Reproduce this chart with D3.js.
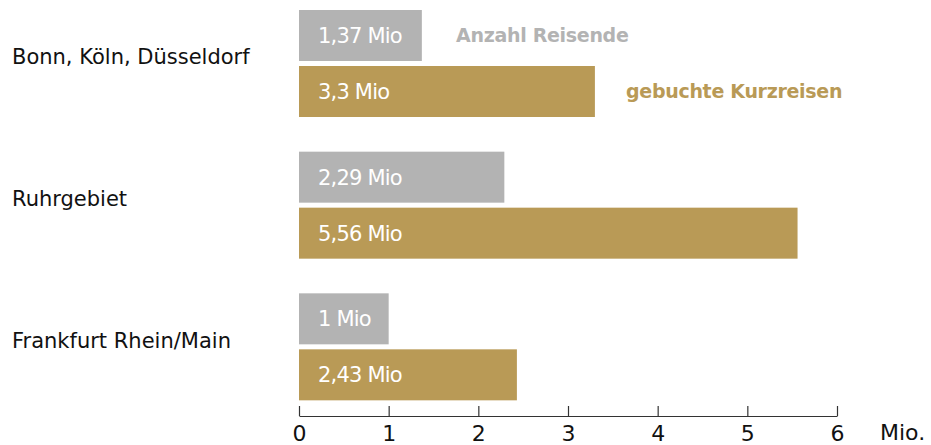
<!DOCTYPE html>
<html>
<head>
<meta charset="utf-8">
<script src="https://cdn.jsdelivr.net/npm/d3@7"></script>
<style>
  body { margin: 0; background: #fff; }
  text { font-family: "DejaVu Sans", sans-serif; }
</style>
</head>
<body>
<svg></svg>
<script>
var width = 931;
var height = 445;

// Data
var regions = ['Bonn, Köln, Düsseldorf', 'Ruhrgebiet', 'Frankfurt Rhein/Main'];
var travellers = [1.37, 2.29, 1];      // Anzahl Reisende (Mio)
var shortTrips = [3.3, 5.56, 2.43];    // gebuchte Kurzreisen (Mio)
var ticks = [0, 1, 2, 3, 4, 5, 6];

var grey = '#b3b3b3';
var gold = '#b99a56';

var svg = d3.select('svg')
    .attr('width', width)
    .attr('height', height);

// Scales
var xScale = d3.scaleLinear()
    .domain([0, 6])
    .range([299, 837]);

var yScale = d3.scaleBand()
    .domain(regions)
    .range([10, 435])
    .paddingInner(0)
    .paddingOuter(0);

var barH = 51;
var gap = 5;

var fmt = function(v) { return String(v).replace('.', ',') + ' Mio'; };

// Category labels
svg.selectAll('.cat')
    .data(regions)
    .enter()
    .append('text')
    .attr('x', 12)
    .attr('y', d => yScale(d) + barH - 4)
    .attr('dy', '0.35em')
    .style('font-size', '21px')
    .style('fill', '#111')
    .text(d => d);

// Grey bars
svg.selectAll('.bar-grey')
    .data(travellers)
    .enter()
    .append('rect')
    .attr('x', xScale(0))
    .attr('y', (d, i) => yScale(regions[i]))
    .attr('width', d => xScale(d) - xScale(0))
    .attr('height', barH)
    .attr('fill', grey);

// Gold bars
svg.selectAll('.bar-gold')
    .data(shortTrips)
    .enter()
    .append('rect')
    .attr('x', xScale(0))
    .attr('y', (d, i) => yScale(regions[i]) + barH + gap)
    .attr('width', d => xScale(d) - xScale(0))
    .attr('height', barH)
    .attr('fill', gold);

// Value labels inside bars
svg.selectAll('.lbl-grey')
    .data(travellers)
    .enter()
    .append('text')
    .attr('x', xScale(0) + 19)
    .attr('y', (d, i) => yScale(regions[i]) + barH / 2)
    .attr('dy', '0.35em')
    .style('font-size', '21px')
    .style('letter-spacing', '-0.8px')
    .style('fill', '#fff')
    .text(fmt);

svg.selectAll('.lbl-gold')
    .data(shortTrips)
    .enter()
    .append('text')
    .attr('x', xScale(0) + 19)
    .attr('y', (d, i) => yScale(regions[i]) + barH + gap + barH / 2)
    .attr('dy', '0.35em')
    .style('font-size', '21px')
    .style('letter-spacing', '-0.8px')
    .style('fill', '#fff')
    .text(fmt);

// Legend labels
svg.append('text')
    .attr('x', 456)
    .attr('y', yScale(regions[0]) + barH / 2)
    .attr('dy', '0.35em')
    .style('font-size', '19px')
    .style('letter-spacing', '-0.3px')
    .style('font-weight', 'bold')
    .style('fill', grey)
    .text('Anzahl Reisende');

svg.append('text')
    .attr('x', 626)
    .attr('y', yScale(regions[0]) + barH + gap + barH / 2)
    .attr('dy', '0.35em')
    .style('font-size', '19px')
    .style('letter-spacing', '-0.3px')
    .style('font-weight', 'bold')
    .style('fill', gold)
    .text('gebuchte Kurzreisen');

// Axis
var xAxis = d3.axisBottom(xScale)
    .tickValues(ticks)
    .tickSize(0)
    .tickPadding(9)
    .tickFormat(d3.format('d'));

var axisG = svg.append('g')
    .attr('transform', 'translate(0,416)')
    .call(xAxis);

axisG.select('.domain').attr('stroke', '#333').attr('stroke-width', 1.2);
axisG.selectAll('.tick line')
    .attr('y2', -10)
    .attr('stroke', '#333')
    .attr('stroke-width', 1.2);
axisG.selectAll('.tick text')
    .style('font-size', '22px')
    .style('font-family', '"DejaVu Sans", sans-serif')
    .style('fill', '#111');

svg.append('text')
    .attr('x', 880)
    .attr('y', 440)
    .style('font-size', '22px')
    .style('fill', '#111')
    .text('Mio.');
</script>
</body>
</html>
